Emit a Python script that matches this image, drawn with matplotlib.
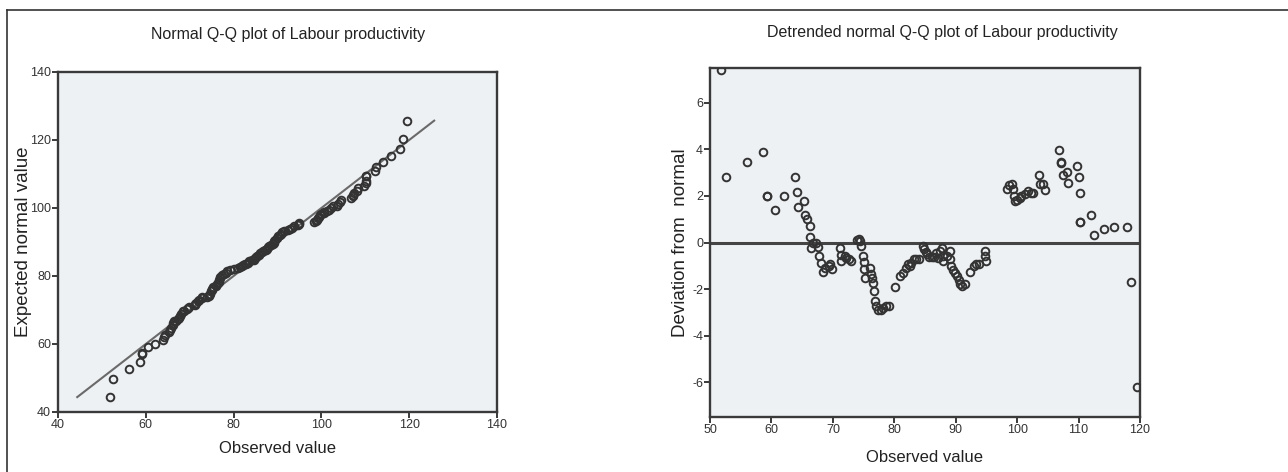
import numpy as np
import matplotlib
matplotlib.use("Agg")
import matplotlib.pyplot as plt
from matplotlib.lines import Line2D
from matplotlib import font_manager

plt.rcParams['font.family'] = ['Liberation Sans', 'DejaVu Sans']
plt.rcParams['axes.unicode_minus'] = False

# Observed labour productivity values (x) and deviation from normal (observed - expected)
observed = [
    51.8, 52.6, 56.1, 58.7, 59.2, 59.2, 60.5, 62.0, 63.9, 64.1,
    64.3, 65.3, 65.4, 65.8, 66.2, 66.3, 66.5, 66.8, 67.3, 67.6,
    67.8, 68.1, 68.4, 68.7, 69.4, 69.6, 69.8, 71.2, 71.3, 71.4,
    72.0, 72.2, 72.7, 72.9, 74.0, 74.3, 74.4, 74.6, 74.9, 75.0,
    75.1, 75.2, 76.0, 76.2, 76.4, 76.6, 76.7, 76.9, 77.0, 77.4,
    77.8, 78.2, 78.6, 79.1, 80.1, 80.9, 81.4, 81.9, 82.2, 82.5,
    82.8, 83.2, 83.6, 84.1, 84.7, 84.9, 85.2, 85.4, 85.7, 86.1,
    86.5, 86.8, 87.1, 87.4, 87.7, 87.9, 88.0, 88.5, 89.0, 89.1,
    89.3, 89.5, 89.9, 90.2, 90.5, 90.7, 91.0, 91.5, 92.3, 92.9,
    93.3, 93.8, 94.7, 94.8, 94.9, 98.3, 98.7, 99.1, 99.3, 99.5,
    99.6, 100.0, 100.5, 100.7, 101.3, 101.7, 102.2, 102.6, 103.6, 103.7,
    104.2, 104.5, 106.8, 107.1, 107.1, 107.4, 108.1, 108.3, 109.7, 110.1,
    110.2, 110.2, 110.2, 112.1, 112.5, 114.1, 115.8, 117.9, 118.5, 119.5,
]
deviation = [
    7.42, 2.83, 3.48, 3.88, 1.99, 2.02, 1.41, 1.99, 2.83, 2.16,
    1.51, 1.80, 1.19, 1.00, 0.71, 0.23, -0.22, 0.00, 0.00, -0.19,
    -0.58, -0.86, -1.25, -1.08, -1.00, -0.94, -1.15, -0.22, -0.53, -0.79,
    -0.58, -0.65, -0.72, -0.79, 0.10, 0.14, 0.07, -0.14, -0.58, -0.83,
    -1.15, -1.51, -1.08, -1.34, -1.54, -1.76, -2.09, -2.52, -2.73, -2.88,
    -2.88, -2.81, -2.73, -2.73, -1.91, -1.44, -1.29, -1.08, -0.94, -1.00,
    -0.86, -0.72, -0.72, -0.69, -0.14, -0.29, -0.39, -0.50, -0.62, -0.62,
    -0.62, -0.43, -0.65, -0.36, -0.22, -0.58, -0.79, -0.58, -0.36, -0.72,
    -1.00, -1.19, -1.29, -1.44, -1.63, -1.80, -1.87, -1.77, -1.25, -1.00,
    -0.94, -0.94, -0.36, -0.58, -0.79, 2.30, 2.47, 2.52, 2.30, 2.01,
    1.80, 1.83, 1.91, 2.01, 2.09, 2.20, 2.12, 2.12, 2.88, 2.52,
    2.52, 2.26, 3.99, 3.45, 3.42, 2.88, 3.02, 2.55, 3.27, 2.81,
    2.12, 0.86, 0.89, 1.19, 0.32, 0.60, 0.65, 0.65, -1.70, -6.19,
]

obs = np.array(observed)
dev = np.array(deviation)
expected = obs - dev

left_xticks = [40, 60, 80, 100, 120, 140]
left_yticks = [40, 60, 80, 100, 120, 140]
right_xticks = [50, 60, 70, 80, 90, 100, 110, 120]
right_yticks = [-6, -4, -2, 0, 2, 4, 6]

W, H = 1288, 472
fig = plt.figure(figsize=(W / 100, H / 100), dpi=100)
fig.patch.set_facecolor('white')

bg = '#eef1f4'
spine_c = '#3a3a3a'
mark_c = '#333333'

# narrow face for tick numbers if it is there
try:
    font_manager.findfont('Liberation Sans Narrow', fallback_to_default=False)
    tick_family = 'Liberation Sans Narrow'
    tick_size = 10
except ValueError:
    tick_family = 'Liberation Sans'
    tick_size = 9


def style_axes(ax):
    ax.set_facecolor(bg)
    for s in ax.spines.values():
        s.set_color(spine_c)
        s.set_linewidth(1.7)
    ax.tick_params(direction='out', length=4, width=1.4, color=spine_c,
                   labelcolor='#333333', labelsize=tick_size, pad=1)
    for lab in ax.get_xticklabels() + ax.get_yticklabels():
        lab.set_fontfamily(tick_family)


# left: normal Q-Q plot
ax1 = fig.add_axes([58 / W, 1 - 412 / H, (497 - 58) / W, (412 - 72) / H])
lo, hi = expected.min(), expected.max()
ax1.plot([lo, hi], [lo, hi], color='#6a6a6a', lw=1.5, zorder=2)
ax1.plot(obs, expected, 'o', mfc='none', mec=mark_c, ms=5.5, mew=1.4, zorder=3)
ax1.set_xlim(40, 140)
ax1.set_ylim(40, 140)
ax1.set_xticks(left_xticks)
ax1.set_yticks(left_yticks)
style_axes(ax1)
ax1.set_xlabel('Observed value', fontsize=12, color='#222222')
ax1.set_ylabel('Expected normal value', fontsize=13.5, color='#222222')
ax1.xaxis.set_label_coords(0.5, (412 - 441) / 340)
ax1.yaxis.set_label_coords((32 - 58) / 439, 0.5)

# right: detrended normal Q-Q plot
ax2 = fig.add_axes([710 / W, 1 - 417 / H, (1140 - 710) / W, (417 - 68) / H])
ax2.axhline(0, color='#444444', lw=2.2, zorder=2)
ax2.plot(obs, dev, 'o', mfc='none', mec=mark_c, ms=5.5, mew=1.4, zorder=3)
ax2.set_xlim(50, 120)
ax2.set_ylim(-7.5, 7.5)
ax2.set_xticks(right_xticks)
ax2.set_yticks(right_yticks)
style_axes(ax2)
ax2.set_xlabel('Observed value', fontsize=12, color='#222222')
ax2.set_ylabel('Deviation from  normal', fontsize=13.5, color='#222222')
ax2.xaxis.set_label_coords(0.5, (417 - 450) / 349)
ax2.yaxis.set_label_coords((689 - 710) / 430, 0.5)

fig.text(288 / W, 1 - 35 / H, 'Normal Q-Q plot of Labour productivity',
         ha='center', va='center', fontsize=11.5, color='#222222')
fig.text(942 / W, 1 - 33 / H, 'Detrended normal Q-Q plot of Labour productivity',
         ha='center', va='center', fontsize=11.5, color='#222222')

# outer frame (top and left edges visible)
fig.add_artist(Line2D([7 / W, 1], [1 - 10 / H, 1 - 10 / H], transform=fig.transFigure,
                      color='#333333', lw=1.2))
fig.add_artist(Line2D([7 / W, 7 / W], [0, 1 - 10 / H], transform=fig.transFigure,
                      color='#333333', lw=1.2))

fig.savefig('out.png', dpi=100)
